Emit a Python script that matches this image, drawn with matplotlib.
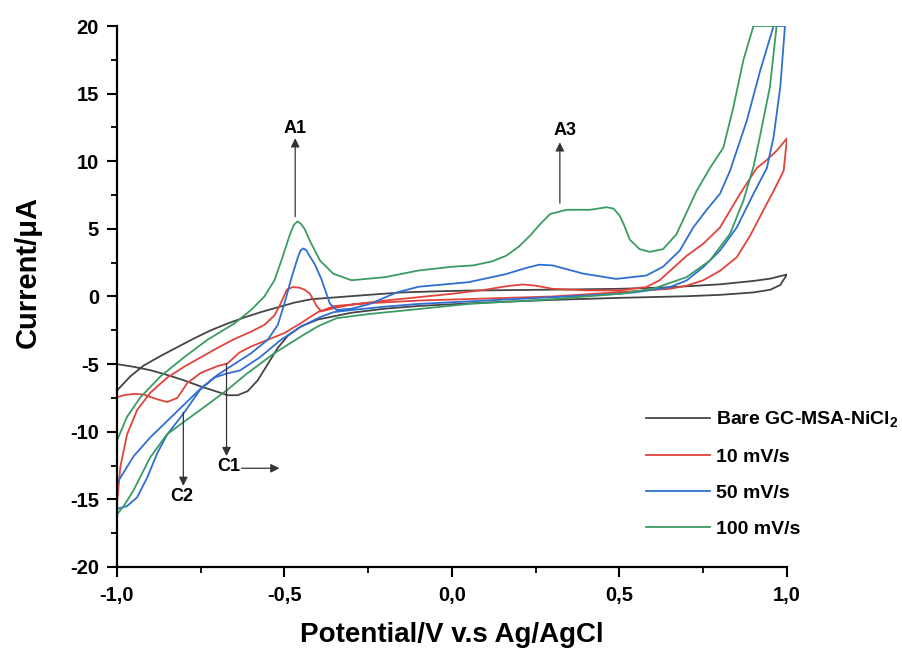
import numpy as np
import matplotlib
matplotlib.use("Agg")
import matplotlib.pyplot as plt
from matplotlib.ticker import MultipleLocator, FuncFormatter

plt.rcParams['font.family'] = ['Liberation Sans', 'DejaVu Sans']
plt.rcParams['font.weight'] = 'bold'
plt.rcParams['mathtext.default'] = 'regular'
plt.rcParams['axes.unicode_minus'] = False

# --- data (potential V, current uA) ---
# bare electrode: upper branch then lower branch
bare_up_x = [-1.0, -0.96, -0.92, -0.87, -0.82, -0.77, -0.72, -0.67, -0.62, -0.57, -0.52, -0.47,
             -0.42, -0.34, -0.25, -0.15, -0.05, 0.05, 0.2, 0.35, 0.5, 0.65, 0.8, 0.9, 0.95, 1.0]
bare_up_y = [-6.95, -5.9, -5.1, -4.4, -3.75, -3.1, -2.5, -2.0, -1.55, -1.15, -0.8, -0.45,
             -0.2, -0.05, 0.12, 0.3, 0.38, 0.44, 0.48, 0.52, 0.57, 0.68, 0.9, 1.15, 1.32, 1.63]
bare_dn_x = [1.0, 0.98, 0.95, 0.9, 0.8, 0.7, 0.5, 0.3, 0.1, -0.1, -0.2, -0.3, -0.4, -0.45,
             -0.49, -0.52, -0.55, -0.58, -0.61, -0.64, -0.67, -0.7, -0.75, -0.8, -0.85, -0.9, -0.95, -1.0]
bare_dn_y = [1.63, 0.85, 0.5, 0.3, 0.12, 0.02, -0.1, -0.25, -0.45, -0.7, -0.9, -1.2, -1.7, -2.2,
             -2.9, -3.8, -5.0, -6.2, -7.0, -7.3, -7.3, -7.05, -6.65, -6.2, -5.8, -5.45, -5.2, -5.0]

# 10 mV/s
r10_fw_x = [-1.0, -0.99, -0.97, -0.94, -0.9, -0.85, -0.8, -0.75, -0.7, -0.65, -0.6, -0.56, -0.53,
            -0.513, -0.493, -0.475, -0.455, -0.44, -0.424, -0.404, -0.39, -0.35, -0.3, -0.2, -0.1,
            0.0, 0.1, 0.16, 0.21, 0.25, 0.3, 0.4, 0.5, 0.58, 0.62, 0.66, 0.7, 0.75, 0.8, 0.86,
            0.91, 0.94, 0.97, 1.0]
r10_fw_y = [-15.3, -12.6, -10.2, -8.4, -7.1, -6.0, -5.2, -4.5, -3.8, -3.15, -2.6, -2.1, -1.4,
            -0.6, 0.5, 0.7, 0.65, 0.5, 0.2, -0.7, -1.1, -0.85, -0.6, -0.3, -0.05,
            0.2, 0.5, 0.75, 0.89, 0.8, 0.57, 0.45, 0.45, 0.7, 1.2, 2.1, 3.0, 3.9, 5.1, 7.6,
            9.5, 10.1, 10.8, 11.7]
r10_bw_x = [1.0, 0.99, 0.96, 0.93, 0.89, 0.85, 0.8, 0.75, 0.7, 0.65, 0.5, 0.3, 0.1, -0.1, -0.25,
            -0.35, -0.4, -0.45, -0.5, -0.55, -0.6, -0.635, -0.67, -0.7, -0.75, -0.79, -0.82,
            -0.85, -0.88, -0.92, -0.95, -0.98, -1.0]
r10_bw_y = [11.7, 9.3, 7.8, 6.4, 4.5, 2.9, 1.9, 1.2, 0.8, 0.57, 0.32, 0.0, -0.15, -0.3, -0.5,
            -0.7, -1.15, -1.95, -2.7, -3.2, -3.7, -4.15, -4.95, -5.15, -5.65, -6.4, -7.5,
            -7.8, -7.6, -7.25, -7.2, -7.3, -7.45]

# 50 mV/s
r50_fw_x = [-1.0, -0.95, -0.9, -0.85, -0.8, -0.75, -0.7, -0.65, -0.6, -0.55, -0.52, -0.5, -0.48,
            -0.46, -0.452, -0.444, -0.436, -0.43, -0.41, -0.39, -0.365, -0.345, -0.3, -0.245,
            -0.165, -0.1, 0.05, 0.16, 0.22, 0.26, 0.3, 0.39, 0.49, 0.58, 0.63, 0.68, 0.72, 0.76,
            0.8, 0.83, 0.88, 0.92, 0.96]
r50_fw_y = [-13.8, -11.8, -10.4, -9.2, -8.0, -6.8, -5.8, -5.0, -4.2, -3.2, -2.1, -0.5, 1.3,
            2.9, 3.4, 3.55, 3.45, 3.2, 2.4, 1.3, -0.5, -1.0, -0.9, -0.55,
            0.3, 0.72, 1.06, 1.65, 2.1, 2.35, 2.3, 1.7, 1.3, 1.55, 2.2, 3.4, 5.1, 6.4,
            7.6, 9.3, 13.0, 16.7, 20.0]
r50_bw_x = [0.994, 0.98, 0.96, 0.94, 0.9, 0.85, 0.8, 0.75, 0.7, 0.65, 0.55, 0.5, 0.3, 0.1, -0.1,
            -0.2, -0.3, -0.354, -0.394, -0.454, -0.513, -0.573, -0.633, -0.673, -0.71, -0.752,
            -0.8, -0.85, -0.88, -0.91, -0.94, -0.97, -1.0]
r50_bw_y = [20.0, 15.5, 11.8, 9.5, 7.6, 5.1, 3.4, 2.17, 1.18, 0.69, 0.32, 0.2, -0.05, -0.3, -0.55,
            -0.75, -1.0, -1.16, -1.53, -2.27, -3.25, -4.49, -5.47, -5.7, -6.0, -6.9,
            -8.6, -10.2, -11.6, -13.4, -14.85, -15.5, -15.7]

# 100 mV/s
r100_fw_x = [-1.0, -0.97, -0.93, -0.87, -0.8, -0.73, -0.65, -0.6, -0.56, -0.53, -0.51, -0.485,
             -0.472, -0.461, -0.45, -0.44, -0.424, -0.394, -0.354, -0.3, -0.2, -0.1, 0.0, 0.064,
             0.12, 0.163, 0.2, 0.233, 0.265, 0.293, 0.342, 0.412, 0.462, 0.482, 0.5, 0.512,
             0.531, 0.56, 0.59, 0.63, 0.67, 0.73, 0.77, 0.81, 0.84, 0.87, 0.9]
r100_fw_y = [-10.65, -8.9, -7.45, -5.9, -4.5, -3.2, -2.0, -1.0, 0.0, 1.2, 2.6, 4.5,
             5.3, 5.55, 5.35, 5.0, 4.1, 2.66, 1.68, 1.2, 1.43, 1.92, 2.2, 2.3,
             2.6, 3.03, 3.7, 4.5, 5.4, 6.1, 6.41, 6.41, 6.6, 6.5, 6.0, 5.38,
             4.2, 3.5, 3.3, 3.5, 4.6, 7.8, 9.5, 11.0, 14.0, 17.5, 20.0]
r100_bw_x = [0.969, 0.949, 0.919, 0.9, 0.87, 0.83, 0.77, 0.7, 0.6, 0.5, 0.3, 0.054, -0.145, -0.25,
             -0.344, -0.4, -0.454, -0.533, -0.613, -0.673, -0.752, -0.802, -0.851, -0.901,
             -0.951, -0.98, -1.0]
r100_bw_y = [20.0, 15.5, 11.8, 9.6, 7.1, 4.64, 2.66, 1.43, 0.57, 0.2, -0.2, -0.54, -1.04, -1.3,
             -1.6, -2.2, -3.0, -4.24, -5.72, -6.95, -8.4, -9.3, -10.2, -11.9,
             -14.35, -15.5, -16.1]

labels = ['Bare GC-MSA-NiCl$_2$', '10 mV/s', '50 mV/s', '100 mV/s']
colors = ['#454545', '#e0443c', '#2f6fd2', '#3a9c62']

curves = [
    (bare_up_x + bare_dn_x, bare_up_y + bare_dn_y),
    (r10_fw_x + r10_bw_x, r10_fw_y + r10_bw_y),
    (r50_fw_x + r50_bw_x, r50_fw_y + r50_bw_y),
    (r100_fw_x + r100_bw_x, r100_fw_y + r100_bw_y),
]

fig = plt.figure(figsize=(9.02, 6.5), dpi=100)
ax = fig.add_axes([0.1297, 0.1277, 0.7428, 0.8323])

for (xs, ys), lab, col in zip(curves, labels, colors):
    ax.plot(xs, ys, color=col, lw=1.3, label=lab, solid_joinstyle='round')

ax.set_xlim(-1.0, 1.0)
ax.set_ylim(-20, 20)
for s in ['top', 'right']:
    ax.spines[s].set_visible(False)
for s in ['left', 'bottom']:
    ax.spines[s].set_linewidth(1.6)

ax.xaxis.set_major_locator(MultipleLocator(0.5))
ax.xaxis.set_minor_locator(MultipleLocator(0.25))
ax.yaxis.set_major_locator(MultipleLocator(5))
ax.yaxis.set_minor_locator(MultipleLocator(2.5))
ax.xaxis.set_major_formatter(FuncFormatter(lambda v, p: f"{v:.1f}".replace('.', ',')))
ax.tick_params(which='major', direction='out', length=7, width=1.5, labelsize=14.5)
ax.tick_params(which='minor', direction='out', length=4, width=1.3)
ax.tick_params(axis='x', which='major', pad=7)
ax.tick_params(axis='y', which='major', pad=6)
for lbl in ax.get_xticklabels() + ax.get_yticklabels():
    lbl.set_fontweight('bold')

ax.set_xlabel('Potential/V v.s Ag/AgCl', fontsize=20, fontweight='bold', labelpad=12)
ax.set_ylabel('Current/\u03bcA', fontsize=21, fontweight='bold')
ax.yaxis.set_label_coords(-0.112, 0.545)

# peak markers
arrow_kw = dict(arrowstyle='-|>', color='#333333', lw=0.9, mutation_scale=13,
                shrinkA=0, shrinkB=0)
ax.annotate('', xy=(-0.468, 11.7), xytext=(-0.468, 5.9), arrowprops=arrow_kw)
ax.text(-0.468, 12.45, 'A1', ha='center', va='center', fontsize=13, fontweight='bold')
ax.annotate('', xy=(0.322, 11.4), xytext=(0.322, 6.9), arrowprops=arrow_kw)
ax.text(0.337, 12.3, 'A3', ha='center', va='center', fontsize=13, fontweight='bold')
ax.annotate('', xy=(-0.673, -11.8), xytext=(-0.673, -4.98), arrowprops=arrow_kw)
ax.text(-0.665, -12.6, 'C1', ha='center', va='center', fontsize=13, fontweight='bold')
ax.annotate('', xy=(-0.515, -12.7), xytext=(-0.628, -12.7), arrowprops=arrow_kw)
ax.annotate('', xy=(-0.802, -14.0), xytext=(-0.802, -8.56), arrowprops=arrow_kw)
ax.text(-0.807, -14.8, 'C2', ha='center', va='center', fontsize=13, fontweight='bold')

leg = ax.legend(loc='upper left', bbox_to_anchor=(0.705, 0.385), bbox_transform=fig.transFigure,
                frameon=False, fontsize=14, handlelength=3.3, handletextpad=0.3,
                labelspacing=0.95, borderpad=0)
for t in leg.get_texts():
    t.set_fontweight('bold')

fig.savefig('out.png', dpi=100)
